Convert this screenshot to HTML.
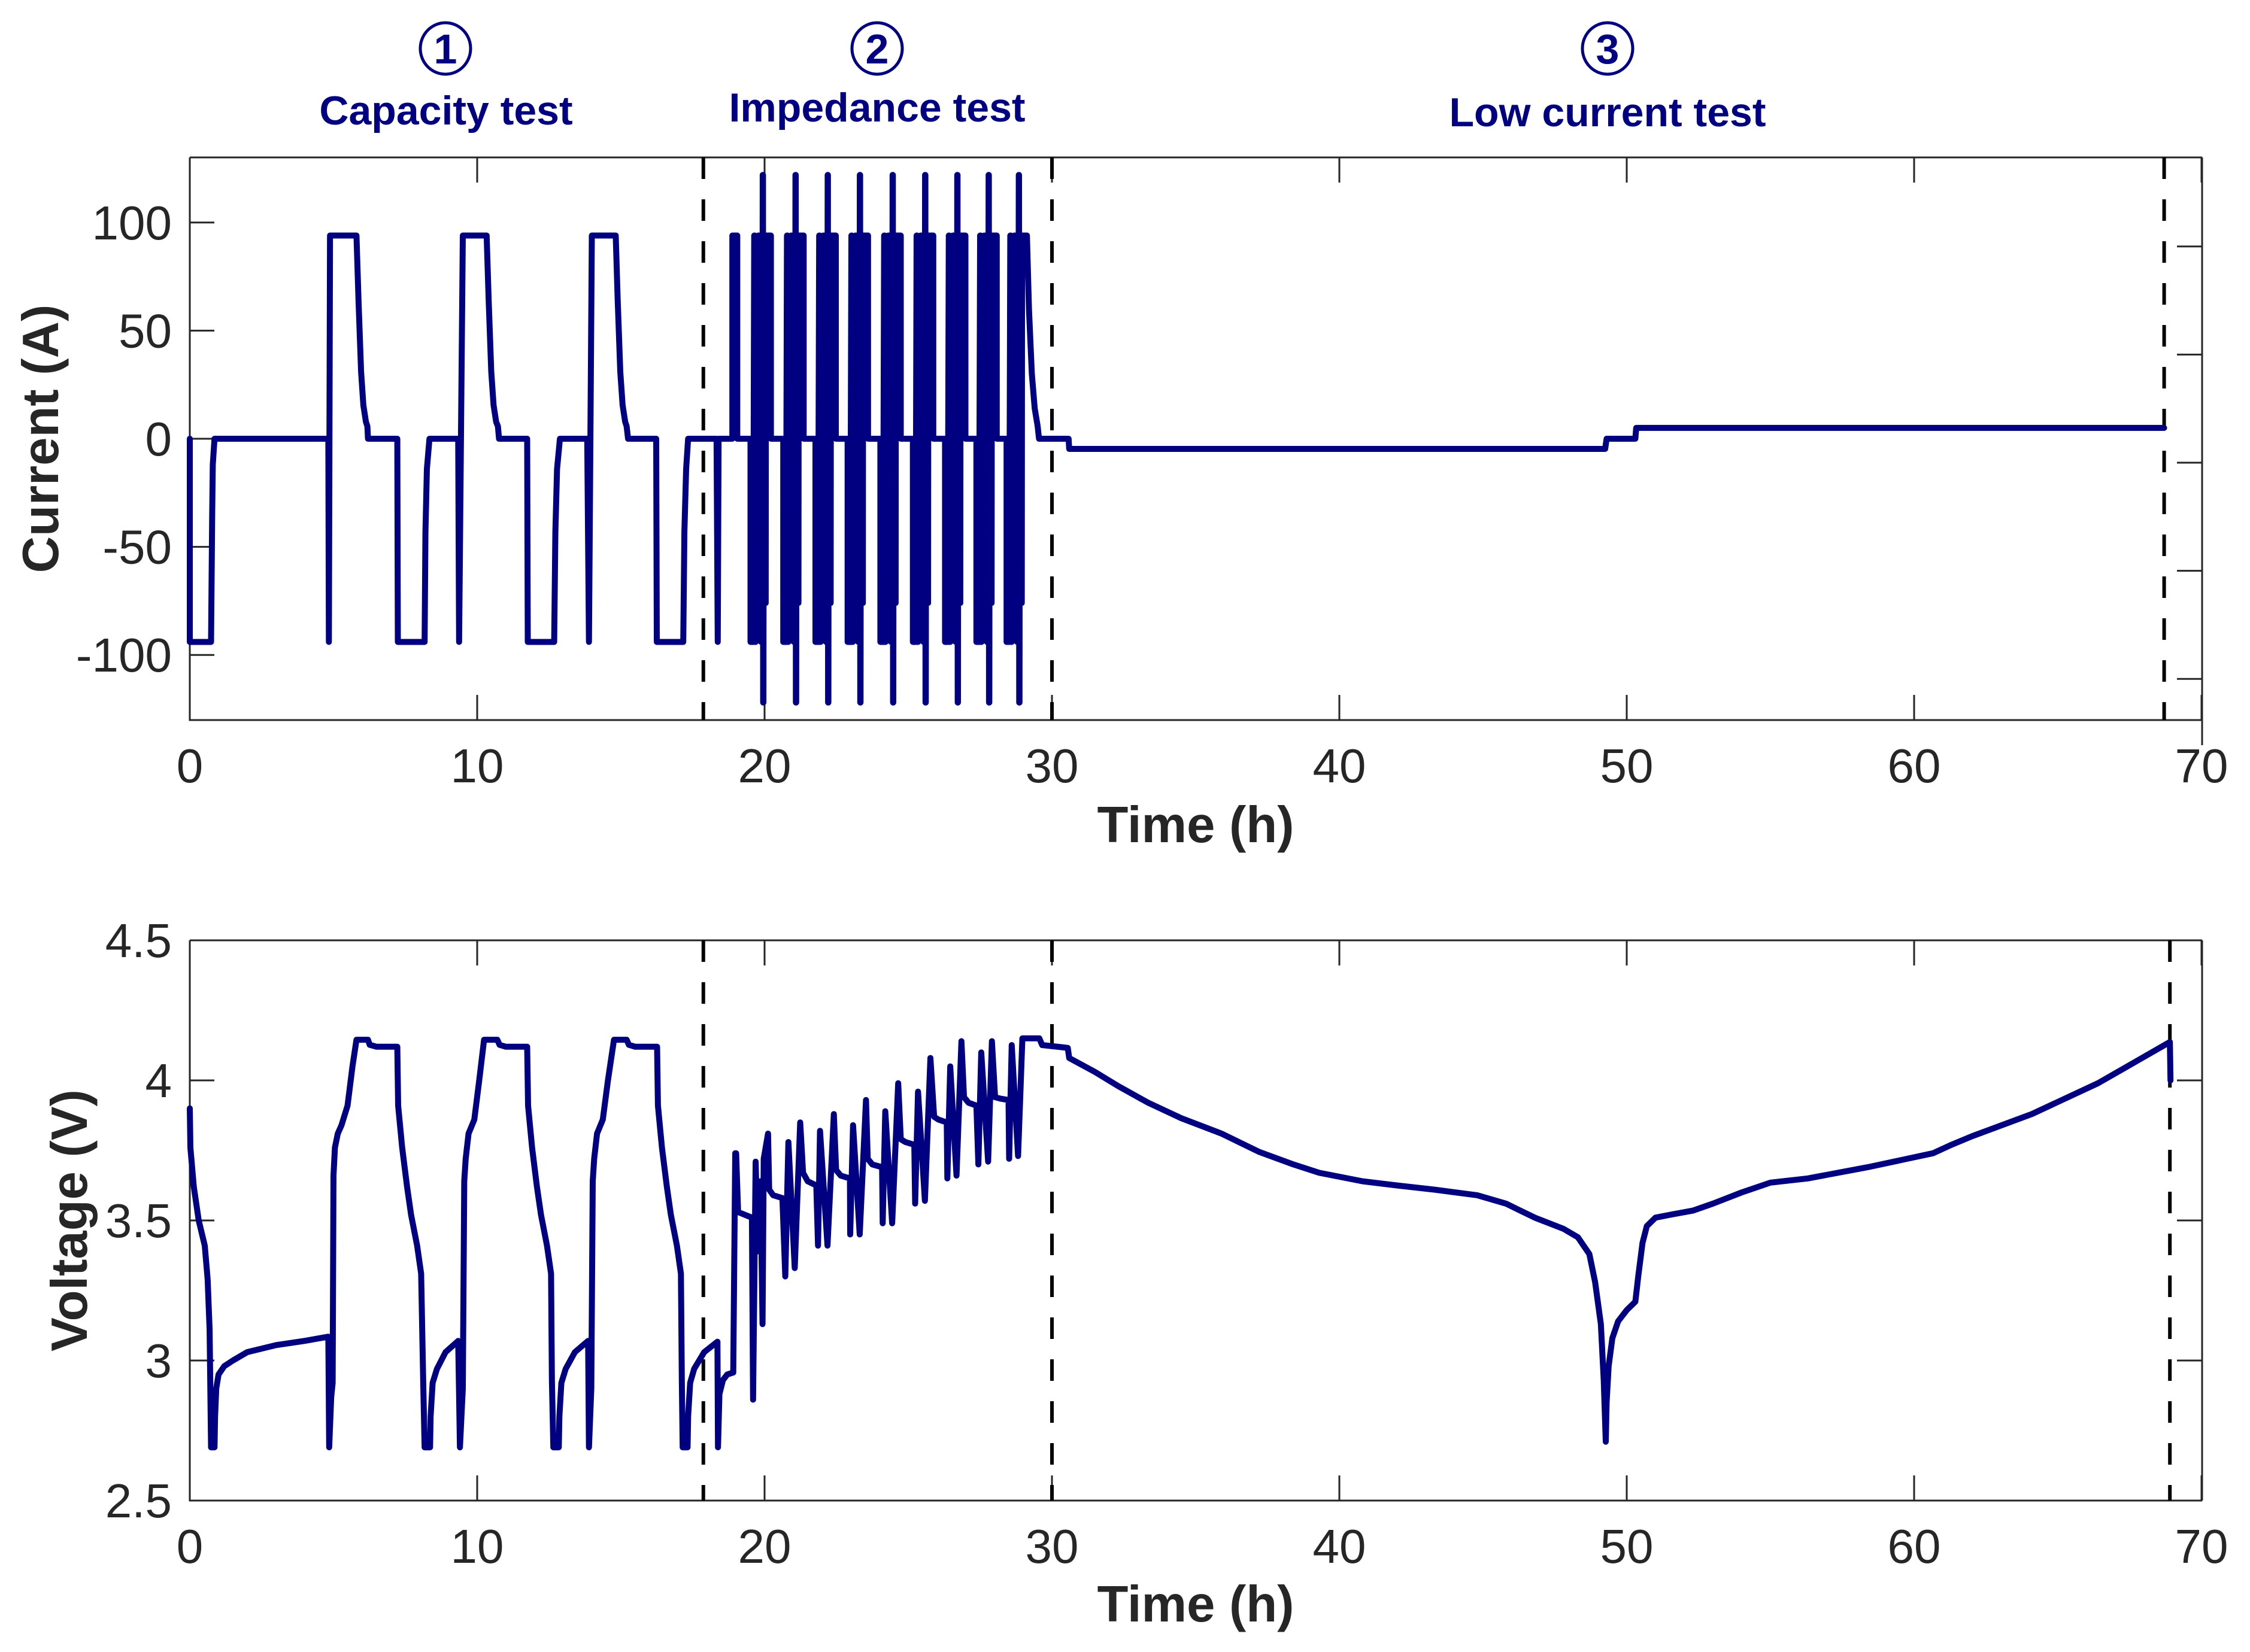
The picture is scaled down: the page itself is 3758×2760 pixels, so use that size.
<!DOCTYPE html>
<html><head><meta charset="utf-8"><style>
html,body{margin:0;padding:0;background:#fff;}
svg{display:block;}
text{font-family:"Liberation Sans",Arial,sans-serif;}
</style></head><body>
<svg id="fig" xmlns="http://www.w3.org/2000/svg" width="3758" height="2760" viewBox="0 0 3758 2760">
<rect x="0" y="0" width="3758" height="2760" fill="#fff"/>
<g id="titles" fill="#000080" font-weight="bold">
  <g>
    <ellipse cx="744" cy="81" rx="42" ry="43" fill="none" stroke="#000080" stroke-width="5"/>
    <text x="744" y="106" font-size="70" text-anchor="middle">1</text>
    <text x="745" y="208" font-size="68" text-anchor="middle">Capacity test</text>
  </g>
  <g>
    <ellipse cx="1465" cy="81" rx="42" ry="43" fill="none" stroke="#000080" stroke-width="5"/>
    <text x="1465" y="106" font-size="70" text-anchor="middle">2</text>
    <text x="1465" y="203" font-size="68" text-anchor="middle">Impedance test</text>
  </g>
  <g>
    <ellipse cx="2685" cy="81" rx="42" ry="43" fill="none" stroke="#000080" stroke-width="5"/>
    <text x="2685" y="106" font-size="70" text-anchor="middle">3</text>
    <text x="2685" y="211" font-size="68" text-anchor="middle">Low current test</text>
  </g>
</g>
<g id="top"></g>
<g id="bot"></g>
</svg>
<script>
// ---------- data ----------
const xTicks = [0,10,20,30,40,50,60,70];
const curTicks = [-100,-50,0,50,100];
const voltTicks = [2.5,3,3.5,4,4.5];
const voltTickLabels = ["2.5","3","3.5","4","4.5"];
const phaseLinesTop = [17.87,30.0,68.7];
const phaseLinesBot = [17.87,30.0,68.9];

// current: capacity section (t h, I A)
const curT1 = [0,0,0.74,0.78,0.8,0.86,4.82,4.84,4.88,5.80,5.87,5.96,6.04,6.13,6.18,6.2,7.22,7.24,8.17,8.2,8.25,8.34,9.34,9.37,9.5,10.33,10.4,10.49,10.57,10.66,10.72,10.76,11.74,11.76,12.68,12.72,12.78,12.88,13.83,13.89,13.99,14.82,14.89,14.98,15.06,15.15,15.2,15.25,16.23,16.25,17.17,17.21,17.27,17.34,18.33,18.37,18.40,18.88,18.88,19.05,19.05];
const curV1 = [0,-94,-94,-35,-12,0,0,-94,94,94,64,31,15.5,7.8,5.8,0,0,-94,-94,-43,-14,0,0,-94,94,94,64,31,15.5,7.8,5.8,0,0,-94,-94,-43,-14,0,0,-94,94,94,64,31,15.5,7.8,5.8,0,0,-94,-94,-43,-14,0,0,-94,0,0,94,94,0];
// impedance section: pulse-train times and pulse pattern
const pulseSpikeTimes = [19.94,21.08,22.20,23.32,24.46,25.59,26.71,27.80,28.85];
const pulseOffsets = [-0.43,-0.43,-0.32,-0.32,-0.30,-0.28,-0.27,-0.25,-0.24,-0.21,-0.20,-0.17,-0.16,-0.13,-0.12,-0.10,-0.09,-0.07,-0.06,-0.04,-0.03,-0.01,-0.005,0.005,0.01,0.02,0.03,0.05,0.06,0.08,0.09,0.10,0.11,0.28];
const pulseValues  = [0,-94,-94,0,94,94,-94,-94,76,76,-48,-48,94,94,-29,-29,94,94,-94,-94,49,49,122,122,-122,-122,0,0,94,94,-76,-76,94,94];
// low current section
const curT3 = [29.13,29.2,29.3,29.4,29.5,29.55,30.58,30.6,49.25,49.3,50.3,50.33,68.7];
const curV3 = [94,60,30,14,6,0,0,-4.7,-4.7,0,0,5,5];

// voltage (t h, V)
const voltT = [0,0.02,0.14,0.31,0.52,0.62,0.69,0.74,0.86,0.88,0.92,1.0,1.2,1.5,2.0,3.0,4.0,4.82,4.85,4.92,4.97,5.0,5.05,5.15,5.28,5.49,5.66,5.80,6.2,6.26,6.5,7.22,7.25,7.39,7.56,7.70,7.91,8.05,8.12,8.17,8.36,8.38,8.45,8.6,8.9,9.34,9.40,9.5,9.55,9.6,9.7,9.9,10.07,10.24,10.7,10.78,11.0,11.74,11.77,11.91,12.08,12.22,12.43,12.57,12.6,12.65,12.84,12.86,12.93,13.08,13.4,13.86,13.89,13.97,14.02,14.07,14.17,14.37,14.55,14.76,15.2,15.28,15.5,16.26,16.29,16.43,16.6,16.74,16.95,17.09,17.12,17.15,17.32,17.34,17.41,17.55,17.9,18.36,18.38,18.43,18.55,18.7,18.91,18.98,19.01,19.08,19.56,
19.6,19.69,19.77,19.86,19.93,19.97,20.12,20.16,20.3,20.62,
20.72,20.83,21.05,21.24,21.34,21.5,21.80,
21.86,21.93,22.19,22.41,22.49,22.65,22.97,
22.98,23.08,23.31,23.53,23.59,23.75,24.09,
24.11,24.2,24.44,24.65,24.74,24.9,25.21,
25.24,25.34,25.58,25.77,25.9,26.05,26.34,
26.36,26.46,26.68,26.85,26.94,27.1,27.37,
27.44,27.54,27.78,27.91,28.02,28.2,28.49,
28.51,28.6,28.82,28.97,29.56,29.66,30.55,
30.6,31.5,32.3,33.35,34.5,35.9,37.2,38.4,39.3,40.8,42.0,43.3,44.8,45.8,46.8,47.8,48.3,48.7,48.9,49.1,49.2,49.27,49.3,49.37,49.5,49.7,50.0,50.3,50.4,50.55,50.7,51.0,51.5,52.3,53.0,54.0,55.0,56.3,58.38,60.66,61.3,62.0,64.1,66.4,68.9,68.92];
const voltV = [3.90,3.76,3.62,3.50,3.41,3.29,3.11,2.69,2.69,2.80,2.90,2.95,2.98,3.0,3.03,3.055,3.07,3.085,2.69,2.87,2.92,3.66,3.76,3.81,3.84,3.91,4.05,4.145,4.145,4.127,4.12,4.12,3.91,3.76,3.62,3.52,3.41,3.31,2.93,2.69,2.69,2.80,2.92,2.97,3.03,3.07,2.69,2.90,3.64,3.72,3.81,3.86,4.0,4.145,4.145,4.127,4.12,4.12,3.91,3.76,3.62,3.52,3.41,3.31,2.93,2.69,2.69,2.80,2.92,2.97,3.03,3.07,2.69,2.90,3.64,3.72,3.81,3.86,4.0,4.145,4.145,4.127,4.12,4.12,3.91,3.76,3.62,3.52,3.41,3.31,2.93,2.69,2.69,2.80,2.92,2.97,3.03,3.067,2.69,2.88,2.93,2.95,2.957,3.74,3.74,3.53,3.51,
2.86,3.71,3.39,3.64,3.13,3.72,3.81,3.61,3.59,3.58,
3.30,3.78,3.33,3.85,3.67,3.64,3.625,
3.41,3.82,3.41,3.88,3.68,3.66,3.65,
3.45,3.84,3.45,3.93,3.72,3.70,3.69,
3.49,3.89,3.49,3.99,3.79,3.78,3.77,
3.56,3.96,3.57,4.08,3.87,3.86,3.85,
3.65,4.05,3.66,4.14,3.94,3.92,3.91,
3.70,4.10,3.71,4.14,3.94,3.935,3.93,
3.72,4.126,3.73,4.15,4.15,4.126,4.116,
4.08,4.03,3.98,3.92,3.865,3.81,3.745,3.70,3.67,3.64,3.625,3.61,3.59,3.56,3.51,3.47,3.44,3.38,3.28,3.13,2.93,2.71,2.85,2.98,3.08,3.14,3.18,3.21,3.30,3.42,3.48,3.51,3.52,3.535,3.56,3.60,3.635,3.65,3.69,3.74,3.77,3.80,3.88,3.99,4.137,4.0];

// ---------- layout ----------
const NS = "http://www.w3.org/2000/svg";
const L = 317, R = 3678;
const X = t => L + 48 * t;
const TOP = {y0: 263, y1: 1203};
const BOT = {y0: 1571, y1: 2507};
const Yc = v => 733 - 3.612 * v;
const Yv = v => 1571 + 468 * (4.5 - v);
const AX = "#262626";

function mk(tag, attrs, parent) {
  const e = document.createElementNS(NS, tag);
  for (const k in attrs) e.setAttribute(k, attrs[k]);
  parent.appendChild(e);
  return e;
}
function txt(parent, x, y, s, size, anchor, weight, rot) {
  const e = mk("text", {x: x, y: y, "font-size": size, "text-anchor": anchor, fill: AX}, parent);
  if (weight) e.setAttribute("font-weight", weight);
  if (rot) e.setAttribute("transform", "rotate(-90 " + x + " " + y + ")");
  e.textContent = s;
  return e;
}

function axes(g, box, yTickVals, yTickLbls, Y, rightOffset, xTitleY, yTitle, yTitleX) {
  const frame = mk("path", {d: "M" + L + " " + box.y0 + "H" + R + "M" + L + " " + box.y0 + "V" + box.y1 + "H" + R + "M" + R + " " + box.y0 + "V" + (rightOffset ? box.y1 + 42 : box.y1), stroke: AX, "stroke-width": 3, fill: "none"}, g);
  
  
  xTicks.forEach(t => {
    const tk = mk("path", {d: "M" + X(t) + " " + box.y1 + "v-42M" + X(t) + " " + box.y0 + "v42", stroke: AX, "stroke-width": 3}, g);
    
    
    const lb = txt(g, X(t), box.y1 + 104, String(t), 80, "middle");
    
    
  });
  yTickVals.forEach((v, i) => {
    const y = Y(v);
    const tk = mk("path", {d: "M" + L + " " + y + "h41M" + (R - 42) + " " + (y + rightOffset) + "h42", stroke: AX, "stroke-width": 3}, g);
    
    
    const lb = txt(g, 287, y + 28, yTickLbls[i], 80, "end");
    
    
  });
  const xt = txt(g, 1997, xTitleY, "Time (h)", 85, "middle", "bold");
  
  
  const yt = txt(g, yTitleX, (box.y0 + box.y1) / 2, yTitle, 85, "middle", "bold", true);
  
  
}

function dashes(g, times, box) {
  times.forEach(t => {
    const d = mk("line", {x1: X(t), x2: X(t), y1: box.y0, y2: box.y1, stroke: "#000", "stroke-width": 6, "stroke-dasharray": "36 34"}, g);
    
    
  });
}

// ---------- top: current ----------
const gt = document.getElementById("top");
axes(gt, TOP, curTicks, curTicks.map(String), Yc, 40, 1407, "Current (A)", 97);
dashes(gt, phaseLinesTop, TOP);
let pts = [];
for (let i = 0; i < curT1.length; i++) pts.push([curT1[i], curV1[i]]);
pulseSpikeTimes.forEach((s, c) => {
  for (let j = 0; j < pulseOffsets.length; j++) pts.push([s + pulseOffsets[j], pulseValues[j]]);
  if (c < pulseSpikeTimes.length - 1) pts.push([s + pulseOffsets[pulseOffsets.length - 1], 0]);
});
for (let i = 0; i < curT3.length; i++) pts.push([curT3[i], curV3[i]]);
const cl = mk("polyline", {points: pts.map(p => X(p[0]).toFixed(1) + "," + Yc(p[1]).toFixed(1)).join(" "), fill: "none", stroke: "#000080", "stroke-width": 10, "stroke-linejoin": "round", "stroke-linecap": "round"}, gt);



// ---------- bottom: voltage ----------
const gb = document.getElementById("bot");
axes(gb, BOT, voltTicks, voltTickLabels, Yv, 0, 2709, "Voltage (V)", 145);
dashes(gb, phaseLinesBot, BOT);
const vp = [];
for (let i = 0; i < voltT.length; i++) vp.push(X(voltT[i]).toFixed(1) + "," + Yv(voltV[i]).toFixed(1));
const vl = mk("polyline", {points: vp.join(" "), fill: "none", stroke: "#000080", "stroke-width": 10, "stroke-linejoin": "round", "stroke-linecap": "round"}, gb);


</script>
</body></html>
